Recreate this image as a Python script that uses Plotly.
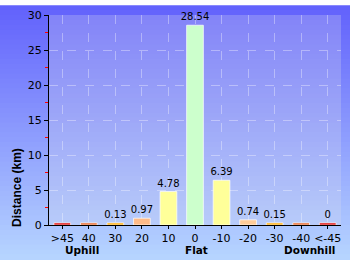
import plotly.graph_objects as go

categories = [">45", "40", "30", "20", "10", "0", "-10", "-20", "-30", "-40", "<-45"]
distances = [0, 0, 0.13, 0.97, 4.78, 28.54, 6.39, 0.74, 0.15, 0, 0]
labels = ["", "", "0.13", "0.97", "4.78", "28.54", "6.39", "0.74", "0.15", "", "0"]
bar_colors = ["#e00000", "#e86020", "#ffaa00", "#ffbb88", "#ffff99", "#ccffcc",
              "#ffff99", "#ffcc99", "#ffaa00", "#e86020", "#e00000"]
y_ticks = [0, 5, 10, 15, 20, 25, 30]
groups = ["Uphill", "Flat", "Downhill"]
group_pos = [82, 196, 309]

W, H = 350, 260
ML, MR, MT, MB = 49, 9, 10, 35
PW, PH = W - ML - MR, H - MT - MB
MIN_H = 0.3  # minimum drawn height of a bar, as in the original

heights = [max(v, MIN_H) for v in distances]

fig = go.Figure()
fig.add_trace(go.Bar(
    x=categories, y=heights, text=labels, textposition="outside",
    textfont=dict(family="DejaVu Sans", size=10, color="black"),
    constraintext="none",
    marker=dict(color=bar_colors, line=dict(color="rgba(255,255,255,0.7)", width=1)),
    width=0.63, cliponaxis=False, hoverinfo="skip",
))

# gradient background
shapes = []
N = 52
top = (98, 98, 252)
bot = (182, 212, 255)
for i in range(N):
    t = i / (N - 1)
    c = tuple(int(round(top[k] + (bot[k] - top[k]) * t)) for k in range(3))
    py0 = H * i / N
    py1 = H * (i + 1) / N + 1
    shapes.append(dict(type="rect", xref="paper", yref="paper", layer="below",
                       x0=-ML / PW, x1=(W - ML) / PW,
                       y0=(H - MB - py1) / PH, y1=(H - MB - py0) / PH,
                       line=dict(width=0), fillcolor="rgb(%d,%d,%d)" % c))
shapes.append(dict(type="rect", xref="paper", yref="paper", layer="below",
                   x0=0, x1=1, y0=0, y1=1, line=dict(width=0),
                   fillcolor="rgba(225,225,235,0.25)"))

annotations = []
for g, px in zip(groups, group_pos):
    annotations.append(dict(text="<b>%s</b>" % g, x=(px - ML) / PW, y=(H - MB - 251) / PH,
                            xref="paper", yref="paper", showarrow=False,
                            xanchor="center", yanchor="middle",
                            font=dict(family="DejaVu Sans", size=10.5, color="black")))
annotations.append(dict(text="<b>Distance (km)</b>", textangle=-90,
                        x=(17 - ML) / PW, y=(H - MB - 187) / PH,
                        xref="paper", yref="paper", showarrow=False,
                        xanchor="center", yanchor="middle",
                        font=dict(family="Liberation Sans", size=12, color="black")))

fig.update_layout(
    width=W, height=H, margin=dict(l=ML, r=MR, t=MT, b=MB),
    paper_bgcolor="rgba(0,0,0,0)", plot_bgcolor="rgba(0,0,0,0)",
    showlegend=False, bargap=0.37,
    shapes=shapes, annotations=annotations,
    xaxis=dict(type="category", range=[-0.5, 10.5], showline=True, linecolor="black",
               linewidth=1, ticks="outside", ticklen=3, tickcolor="black",
               showgrid=True, gridcolor="rgba(255,255,255,0.35)", griddash="dash",
               tickfont=dict(family="DejaVu Sans", size=11, color="black"), fixedrange=True),
    yaxis=dict(range=[0, 30], tickvals=y_ticks, showline=True, linecolor="black",
               linewidth=1, ticks="outside", ticklen=4, tickcolor="black",
               showgrid=True, gridcolor="rgba(255,255,255,0.35)", griddash="dash",
               zeroline=False,
               tickfont=dict(family="DejaVu Sans", size=11, color="black"),
               minor=dict(dtick=2.5, ticks="outside", ticklen=3, tickcolor="red",
                          showgrid=False),
               fixedrange=True),
)

fig.write_html("out.html")
